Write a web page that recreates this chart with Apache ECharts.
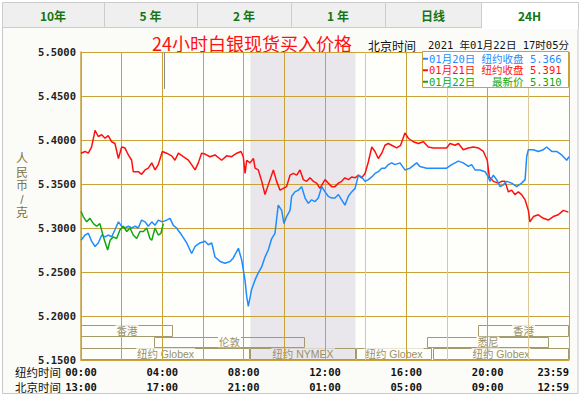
<!DOCTYPE html>
<html><head><meta charset="utf-8">
<script src="https://cdn.jsdelivr.net/npm/echarts@6/dist/echarts.min.js"></script>
<style>html,body{margin:0;padding:0;background:#fff;}#c{width:586px;height:396px;}</style>
</head><body><div id="c"></div>
<script>
// ---------- DATA ----------
const tabs = ['10年', '5 年', '2 年', '1 年', '日线', '24H'];
const activeTab = 5;
const titleText = '24小时白银现货买入价格';
const tzLabel = '北京时间';
const dateText = '2021 年01月22日 17时05分';
const yName = '人民币/克';
const seriesNames = ['01月20日', '01月21日', '01月22日'];
const closeLabels = ['纽约收盘', '纽约收盘', '最新价'];
const closeValues = ['5.366', '5.391', '5.310'];
const nyTimeLabels = ['00:00', '04:00', '08:00', '12:00', '16:00', '20:00', '23:59'];
const bjTimeLabels = ['13:00', '17:00', '21:00', '01:00', '05:00', '09:00', '12:59'];
const rowNames = ['纽约时间', '北京时间'];
const nymexHours = [8.33, 13.5];
const nowHour = 4.08;

// sessions: start hour, end hour, row (0 top), label
const sessStart = [0, 19.5, 3.6, 17, 0, 8.33, 13.5, 17.3];
const sessEnd   = [4.5, 24, 11, 23, 8.33, 13.5, 17.25, 24];
const sessRow   = [0, 0, 1, 1, 2, 2, 2, 2];
const sessName  = ['香港', '香港', '伦敦', '悉尼', '纽约 Globex', '纽约 NYMEX', '纽约 Globex', '纽约 Globex'];

// 01月20日 (blue)
const blueT = [0,0.2,0.36,0.52,0.69,0.85,1.02,1.18,1.34,1.51,1.67,1.84,2.0,2.16,2.33,2.49,2.66,2.82,2.98,3.15,3.31,3.48,3.64,3.8,4.0,4.21,4.38,4.54,4.7,4.95,5.2,5.44,5.61,5.85,6.1,6.26,6.43,6.59,6.84,7.08,7.33,7.49,7.74,7.9,8.07,8.15,8.23,8.39,8.56,8.72,8.89,9.05,9.21,9.38,9.54,9.7,9.87,9.98,10.11,10.28,10.36,10.52,10.69,10.85,11.02,11.18,11.34,11.51,11.67,11.84,12.0,12.16,12.33,12.49,12.66,12.82,12.98,13.15,13.31,13.48,13.64,13.8,13.97,14.13,14.3,14.46,14.62,14.79,14.95,15.11,15.28,15.44,15.69,15.93,16.18,16.51,16.67,17.0,17.98,18.23,18.56,18.8,19.05,19.21,19.38,19.62,19.87,20.03,20.11,20.28,20.44,20.61,20.77,20.93,21.18,21.43,21.67,21.84,21.92,22.0,22.25,22.49,22.74,22.9,23.15,23.39,23.64,23.89,24.0];
const blueV = [5.286,5.292,5.294,5.285,5.279,5.283,5.292,5.290,5.292,5.290,5.298,5.307,5.302,5.300,5.302,5.300,5.302,5.300,5.309,5.307,5.302,5.307,5.303,5.309,5.307,5.309,5.311,5.303,5.300,5.292,5.283,5.271,5.279,5.283,5.285,5.281,5.283,5.267,5.262,5.260,5.262,5.266,5.277,5.264,5.240,5.222,5.211,5.230,5.241,5.249,5.256,5.267,5.275,5.288,5.294,5.326,5.320,5.305,5.313,5.320,5.336,5.341,5.343,5.347,5.334,5.328,5.332,5.330,5.334,5.347,5.341,5.336,5.334,5.334,5.338,5.332,5.326,5.336,5.341,5.345,5.360,5.358,5.353,5.355,5.358,5.362,5.364,5.368,5.368,5.372,5.374,5.372,5.374,5.366,5.368,5.374,5.370,5.368,5.368,5.372,5.376,5.374,5.370,5.372,5.366,5.366,5.364,5.358,5.353,5.360,5.355,5.347,5.349,5.353,5.351,5.347,5.351,5.355,5.381,5.389,5.389,5.387,5.389,5.392,5.387,5.387,5.383,5.377,5.381];

// 01月21日 (red)
const redT = [0,0.2,0.36,0.52,0.69,0.85,1.02,1.18,1.34,1.51,1.67,1.84,2.0,2.16,2.33,2.49,2.57,2.82,2.98,3.15,3.31,3.48,3.64,3.8,4.0,4.21,4.46,4.62,4.79,5.03,5.28,5.44,5.61,5.77,5.93,6.1,6.34,6.59,6.92,7.16,7.41,7.66,7.87,7.98,8.07,8.15,8.31,8.48,8.56,8.72,8.89,9.05,9.21,9.46,9.62,9.79,9.95,10.11,10.28,10.44,10.61,10.77,10.93,11.1,11.26,11.43,11.59,11.75,12.0,12.16,12.33,12.49,12.66,12.82,12.98,13.15,13.31,13.48,13.64,13.8,13.97,14.13,14.3,14.46,14.62,14.79,14.95,15.11,15.28,15.52,15.72,15.93,16.1,16.34,16.59,16.84,17.08,17.33,17.98,18.15,18.39,18.56,18.8,19.05,19.3,19.54,19.79,19.98,20.08,20.28,20.52,20.69,20.85,21.02,21.18,21.34,21.51,21.67,21.84,22.0,22.08,22.25,22.49,22.74,22.98,23.23,23.47,23.72,23.97];
const redV = [5.385,5.387,5.385,5.392,5.411,5.404,5.406,5.402,5.405,5.398,5.396,5.379,5.392,5.391,5.383,5.377,5.364,5.364,5.361,5.366,5.368,5.374,5.366,5.372,5.387,5.385,5.382,5.377,5.385,5.381,5.377,5.372,5.366,5.374,5.385,5.384,5.381,5.383,5.377,5.382,5.381,5.385,5.387,5.381,5.362,5.377,5.374,5.379,5.368,5.366,5.353,5.338,5.349,5.366,5.353,5.343,5.345,5.347,5.360,5.362,5.360,5.366,5.355,5.353,5.357,5.353,5.351,5.345,5.355,5.351,5.347,5.347,5.351,5.353,5.357,5.355,5.358,5.357,5.360,5.357,5.362,5.375,5.392,5.387,5.379,5.385,5.394,5.396,5.394,5.391,5.394,5.408,5.402,5.398,5.396,5.398,5.392,5.391,5.391,5.396,5.394,5.396,5.389,5.391,5.392,5.391,5.387,5.377,5.358,5.353,5.351,5.353,5.353,5.341,5.343,5.338,5.341,5.338,5.332,5.320,5.307,5.313,5.315,5.311,5.309,5.313,5.315,5.320,5.318];

// 01月22日 (green)
const greenT = [0,0.11,0.28,0.44,0.61,0.77,0.93,1.1,1.31,1.43,1.59,1.75,1.92,2.08,2.25,2.41,2.57,2.74,2.9,3.07,3.23,3.39,3.48,3.64,3.8,3.93,4.05];
const greenV = [5.319,5.313,5.307,5.311,5.305,5.302,5.305,5.290,5.275,5.286,5.290,5.288,5.298,5.302,5.296,5.300,5.292,5.288,5.296,5.296,5.300,5.288,5.286,5.300,5.292,5.294,5.305];

// ---------- CHART ----------
const seriesColors = ['#1e8cff', '#ff1010', '#10a810'];
const gold = '#c9a23a';
const goldLight = '#dcc896';
const sessColor = '#a39b6c';
const plotBg = '#fefefb';
const shadeColor = '#e9e7eb';
const Y_MIN = 5.15, Y_MAX = 5.5;
const rowBand = [[5.1767, 5.19], [5.1633, 5.1767], [5.15, 5.1633]];

const zip = (t, v) => t.map((x, i) => [x, v[i]]);
const mono = '"DejaVu Sans Mono", monospace';
const cjk = '"Noto Sans CJK SC", "Noto Sans", sans-serif';
const tight = '"Liberation Sans", ' + cjk;

const chart = echarts.init(document.getElementById('c'), null, {renderer: 'svg'});

const tabEdges = [2, 104, 197, 291, 385, 481, 578];
const graphics = [];
graphics.push({type: 'rect', z: -10, shape: {x: 2.5, y: 27.5, width: 575.5, height: 366}, style: {fill: '#fbfcf8', stroke: '#c8c8c8', lineWidth: 1}});
tabs.forEach((t, i) => {
  const x0 = tabEdges[i], x1 = tabEdges[i + 1];
  const act = i === activeTab;
  graphics.push({type: 'rect', z: -5, shape: {x: x0 + 0.5, y: 2.5, width: x1 - x0, height: act ? 25.5 : 25}, style: {fill: act ? '#ffffff' : '#efefef', stroke: '#cccccc', lineWidth: 1}});
  if (act) graphics.push({type: 'rect', z: -4, shape: {x: x0 + 1, y: 27, width: x1 - x0 - 1, height: 2}, style: {fill: '#ffffff'}});
  graphics.push({type: 'text', z: -3, style: {text: t, x: (x0 + x1) / 2, y: 15, align: 'center', verticalAlign: 'middle', fill: '#137513', font: 'bold 12px ' + cjk}});
});
graphics.push({type: 'text', style: {text: titleText, x: 152, y: 43, verticalAlign: 'middle', fill: '#ff1010', font: '18px ' + cjk}});
graphics.push({type: 'text', style: {text: tzLabel, x: 368, y: 45, verticalAlign: 'middle', fill: '#111', font: '12px ' + cjk}});
graphics.push({type: 'text', style: {text: dateText, x: 428, y: 45, verticalAlign: 'middle', fill: '#111', font: '10.5px ' + mono + ', ' + cjk}});
yName.split('').forEach((ch, i) => {
  graphics.push({type: 'text', style: {text: ch, x: 22, y: 159 + i * 13.6, align: 'center', verticalAlign: 'middle', fill: '#7d7346', font: '12px ' + tight}});
});
graphics.push({type: 'text', style: {text: rowNames[0], x: 15, y: 373, verticalAlign: 'middle', fill: '#111', font: '11.5px ' + tight}});
graphics.push({type: 'text', style: {text: rowNames[1], x: 15, y: 388, verticalAlign: 'middle', fill: '#111', font: '11.5px ' + tight}});
graphics.push({type: 'rect', z: 20, shape: {x: 422.5, y: 51.5, width: 146, height: 36}, style: {fill: '#ffffff', stroke: gold, lineWidth: 1}});

const legendData = seriesNames.map((n, i) => ({name: n, textStyle: {color: seriesColors[i]}}));
const padLabel = s => '\u3000'.repeat(Math.max(0, 4 - s.length)) + s;

const vLineColors = [];
for (let h = 0; h <= 24; h += 2) vLineColors.push((h === 14 || h === 18 || h === 22) ? goldLight : gold);

const option = {
  animation: false,
  backgroundColor: '#ffffff',
  graphic: graphics,
  grid: {left: 81, right: 17, top: 52, bottom: 36, show: true, backgroundColor: plotBg, borderWidth: 0},
  legend: {
    data: legendData, orient: 'vertical', left: 422, top: 52, z: 30,
    icon: 'rect', itemWidth: 5, itemHeight: 2, itemGap: 0, padding: [1, 2, 0, 1],
    selectedMode: false,
    formatter: name => { const i = seriesNames.indexOf(name); return name + ' ' + padLabel(closeLabels[i]) + ' ' + closeValues[i]; },
    textStyle: {fontFamily: mono + ', ' + cjk, fontSize: 10.5, padding: [0, 0, 0, -4], lineHeight: 11.5}
  },
  xAxis: {
    type: 'value', min: 0, max: 24, interval: 2, z: 3,
    axisLine: {show: true, lineStyle: {color: gold}}, axisTick: {show: false},
    splitLine: {show: true, lineStyle: {color: vLineColors, width: 1}},
    axisLabel: {
      margin: 4, alignMaxLabel: 'right', showMinLabel: true, showMaxLabel: true,
      formatter: v => { if (v % 4 !== 0) return ''; const i = v / 4; return '{a|' + nyTimeLabels[i] + '}\n{a|' + bjTimeLabels[i] + '}'; },
      rich: {a: {fontFamily: mono, fontWeight: 'bold', fontSize: 10.5, color: '#111', lineHeight: 15}}
    }
  },
  yAxis: {
    type: 'value', min: Y_MIN, max: Y_MAX, interval: 0.05, z: 3,
    axisLine: {show: true, lineStyle: {color: gold, width: 1.5}}, axisTick: {show: false},
    splitLine: {show: true, lineStyle: {color: gold, width: 1}},
    axisLabel: {margin: 5, formatter: v => v.toFixed(4), fontFamily: mono, fontWeight: 'bold', fontSize: 10.5, color: '#222'}
  },
  series: [
    {
      type: 'line', name: 'shade', data: [], z: 1, silent: true,
      markArea: {silent: true, itemStyle: {color: shadeColor}, data: [[{coord: [nymexHours[0], Y_MIN]}, {coord: [nymexHours[1], Y_MAX]}]]}
    },
    {
      type: 'custom', name: 'sessions', z: 2, silent: true,
      data: sessStart.map((s, i) => [s, sessEnd[i], sessRow[i]]),
      renderItem: (params, api) => {
        const s = api.value(0), e = api.value(1), r = api.value(2);
        const p1 = api.coord([s, rowBand[r][1]]);
        const p2 = api.coord([e, rowBand[r][0]]);
        const x0 = Math.round(p1[0]) + 0.5, x1 = Math.round(p2[0]) - 0.5;
        const y0 = Math.round(p1[1]) + 0.5, y1 = Math.round(p2[1]) - 0.5;
        const cx = (x0 + x1) / 2;
        const inShade = s >= nymexHours[0] - 0.01 && e <= nymexHours[1] + 0.01;
        return {type: 'group', children: [
          {type: 'rect', shape: {x: x0, y: y0, width: x1 - x0, height: y1 - y0}, style: {fill: null, stroke: sessColor, lineWidth: 1}},
          {type: 'text', z2: 5, style: {text: sessName[params.dataIndex], x: cx, y: (y0 + y1) / 2 - 0.5, align: 'center', verticalAlign: 'middle', fill: '#9a9066', font: '10.5px ' + tight, backgroundColor: inShade ? shadeColor : plotBg, padding: [0, 1]}}
        ]};
      }
    },
    {type: 'line', name: seriesNames[1], data: zip(redT, redV), z: 5, showSymbol: false, lineStyle: {color: seriesColors[1], width: 1.5}, itemStyle: {color: seriesColors[1]}},
    {type: 'line', name: seriesNames[0], data: zip(blueT, blueV), z: 6, showSymbol: false, lineStyle: {color: seriesColors[0], width: 1.5}, itemStyle: {color: seriesColors[0]}},
    {type: 'line', name: seriesNames[2], data: zip(greenT, greenV), z: 7, showSymbol: false, lineStyle: {color: seriesColors[2], width: 1.5}, itemStyle: {color: seriesColors[2]},
      markLine: {silent: true, symbol: 'none', label: {show: false}, lineStyle: {color: '#8a8a8a', width: 1, type: 'solid'},
        data: [[{coord: [nowHour, Y_MAX]}, {coord: [nowHour, 5.458]}]]}}
  ]
};
chart.setOption(option);
</script></body></html>
